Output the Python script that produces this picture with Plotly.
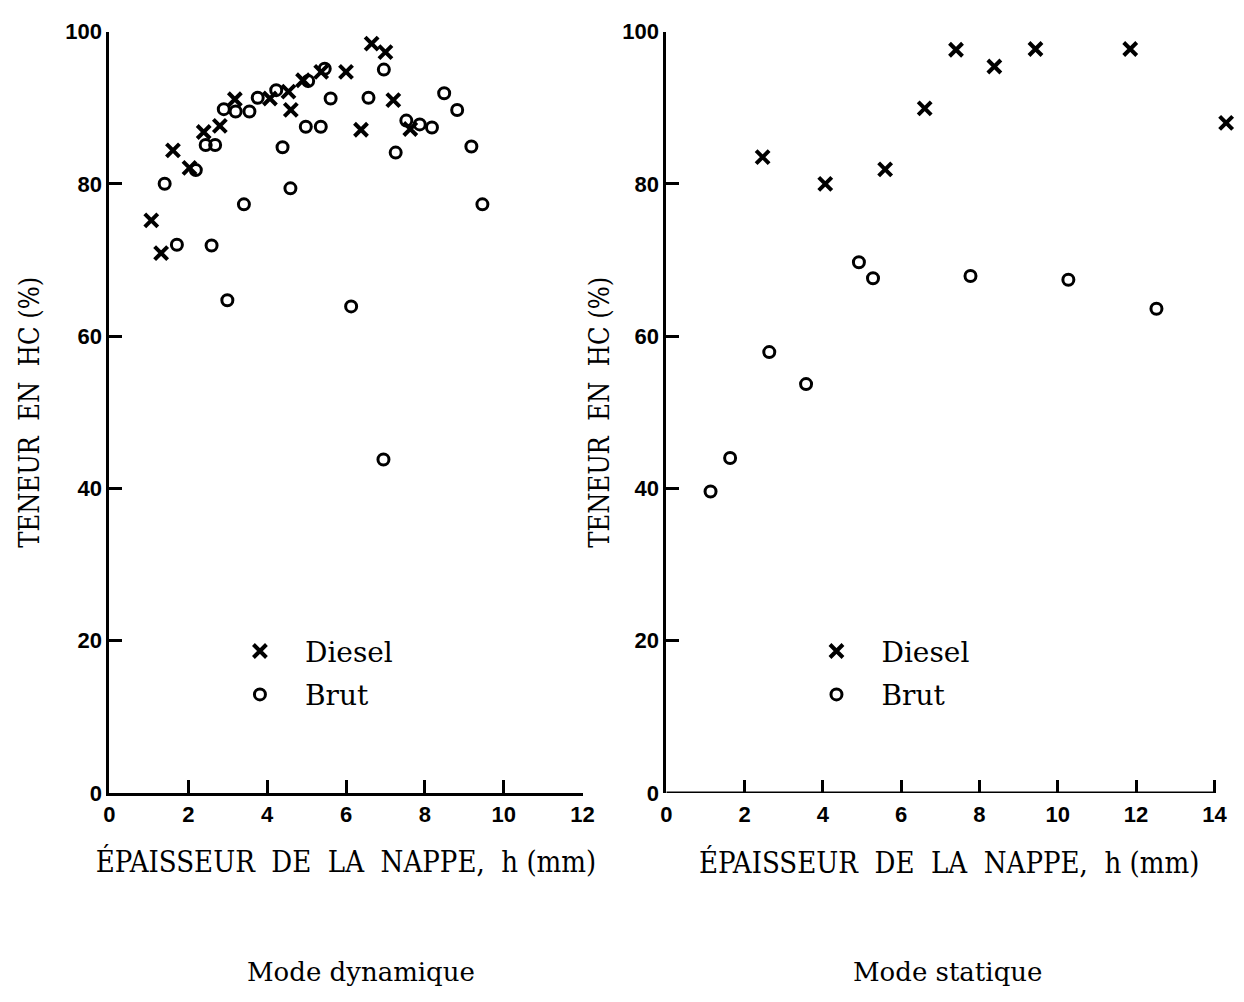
import plotly.graph_objects as go

# Mode dynamique : teneur en hydrocarbures vs épaisseur de la nappe
dyn_diesel_h = [1.06, 1.31, 1.61, 2.03, 2.39, 2.80, 3.18, 4.07, 4.54, 4.60,
                4.91, 5.37, 6.00, 6.38, 6.65, 7.00, 7.20, 7.63]
dyn_diesel_hc = [75.2, 70.9, 84.4, 82.1, 86.8, 87.6, 91.1, 91.2, 92.1, 89.7,
                 93.6, 94.7, 94.7, 87.1, 98.4, 97.3, 91.0, 87.2]
dyn_brut_h = [1.40, 1.71, 2.19, 2.44, 2.59, 2.68, 2.90, 2.99, 3.20, 3.41,
              3.55, 3.76, 4.23, 4.39, 4.59, 4.98, 5.04, 5.36, 5.46, 5.61,
              6.13, 6.57, 6.95, 6.96, 7.26, 7.53, 7.87, 8.18, 8.49, 8.82,
              9.18, 9.46]
dyn_brut_hc = [80.0, 72.0, 81.8, 85.1, 71.9, 85.1, 89.8, 64.7, 89.5, 77.3,
               89.5, 91.3, 92.3, 84.8, 79.4, 87.5, 93.5, 87.5, 95.1, 91.2,
               63.9, 91.3, 43.8, 95.0, 84.1, 88.3, 87.8, 87.4, 91.9, 89.7,
               84.9, 77.3]

# Mode statique
sta_diesel_h = [2.46, 4.06, 5.59, 6.60, 7.40, 8.38, 9.43, 11.85, 14.30]
sta_diesel_hc = [83.5, 80.0, 81.9, 89.9, 97.6, 95.4, 97.7, 97.7, 88.0]
sta_brut_h = [1.13, 1.63, 2.63, 3.57, 4.92, 5.28, 7.77, 10.27, 12.52]
sta_brut_hc = [39.6, 44.0, 57.9, 53.7, 69.7, 67.6, 67.9, 67.4, 63.6]

x_ticks_dyn = [0, 2, 4, 6, 8, 10, 12]
x_ticks_sta = [0, 2, 4, 6, 8, 10, 12, 14]
y_ticks = [0, 20, 40, 60, 80, 100]

SERIF = "DejaVu Serif"
SERIF_NARROW = "DejaVu Serif Condensed, DejaVu Serif"
TICKFONT = dict(family="Liberation Sans", size=22, color="black", weight="bold")

diesel_marker = dict(symbol="x-thin-open", size=13, color="black",
                     line=dict(width=4, color="black"))
brut_marker = dict(symbol="circle-open", size=11, color="black",
                   line=dict(width=3, color="black"))

fig = go.Figure()

fig.add_trace(go.Scatter(x=dyn_diesel_h, y=dyn_diesel_hc, mode="markers",
                         name="Diesel", marker=diesel_marker,
                         xaxis="x", yaxis="y", legend="legend",
                         legendgroup="diesel_dyn", cliponaxis=False))
fig.add_trace(go.Scatter(x=dyn_brut_h, y=dyn_brut_hc, mode="markers",
                         name="Brut", marker=brut_marker,
                         xaxis="x", yaxis="y", legend="legend",
                         legendgroup="brut_dyn", cliponaxis=False))
fig.add_trace(go.Scatter(x=sta_diesel_h, y=sta_diesel_hc, mode="markers",
                         name="Diesel", marker=diesel_marker,
                         xaxis="x2", yaxis="y2", legend="legend2",
                         legendgroup="diesel_sta", cliponaxis=False))
fig.add_trace(go.Scatter(x=sta_brut_h, y=sta_brut_hc, mode="markers",
                         name="Brut", marker=brut_marker,
                         xaxis="x2", yaxis="y2", legend="legend2",
                         legendgroup="brut_sta", cliponaxis=False))

W, H = 1244, 1002
y_dom = [(H - 801) / H, (H - 20) / H]

x_title = "ÉPAISSEUR\u00a0\u00a0DE\u00a0\u00a0LA\u00a0\u00a0NAPPE,\u00a0\u00a0h\u00a0(mm)"
y_title = "TENEUR\u00a0\u00a0EN\u00a0\u00a0HC\u00a0(%)"


def x_axis(domain, rng, ticks, anchor, showline=True, label_gap=0):
    return dict(domain=domain, range=rng, tickvals=ticks, anchor=anchor,
                showline=showline, linewidth=3, linecolor="black",
                ticks="inside", ticklen=13, tickwidth=2.5, tickcolor="black",
                showgrid=False, zeroline=False, tickfont=TICKFONT,
                ticklabelstandoff=label_gap,
                title=dict(text=x_title, standoff=26,
                           font=dict(family=SERIF_NARROW, size=29,
                                     color="black")))


def y_axis(domain, anchor, standoff):
    return dict(domain=domain, range=[0, 100], tickvals=y_ticks, anchor=anchor,
                showline=True, linewidth=3, linecolor="black",
                ticks="inside", ticklen=13, tickwidth=2.5, tickcolor="black",
                showgrid=False, zeroline=False, tickfont=TICKFONT,
                title=dict(text=y_title, standoff=standoff,
                           font=dict(family=SERIF_NARROW, size=27,
                                     color="black")))


legend_style = dict(xanchor="left", yanchor="top", bgcolor="rgba(0,0,0,0)",
                    font=dict(family=SERIF, size=28, color="black"),
                    itemwidth=80, tracegroupgap=4, traceorder="grouped")

# The static panel's range runs a little past 14 so the last point (h > 14)
# stays visible at the page edge; its axis line is drawn only from 0 to 14.
sta_range = [0, 14.45]

fig.update_layout(
    width=W, height=H,
    margin=dict(l=0, r=0, t=0, b=0),
    paper_bgcolor="white", plot_bgcolor="white",
    xaxis=x_axis([105 / W, 585 / W], [0, 12], x_ticks_dyn, "y"),
    yaxis=y_axis(y_dom, "x", 18),
    xaxis2=x_axis([670 / W, 1.0], sta_range, x_ticks_sta, "y2",
                  showline=False, label_gap=6),
    yaxis2=y_axis(y_dom, "x2", 5),
    legend=dict(x=212 / W, y=(H - 630) / H, **legend_style),
    legend2=dict(x=797 / W, y=(H - 630) / H, **legend_style),
    shapes=[
        dict(type="line", xref="x2", yref="y2",
             x0=x_ticks_sta[0], x1=x_ticks_sta[-1], y0=0, y1=0,
             line=dict(color="black", width=3), layer="above"),
    ],
    annotations=[
        dict(text="Mode dynamique", x=360 / W, y=(H - 985) / H,
             xref="paper", yref="paper", showarrow=False,
             xanchor="center", yanchor="middle",
             font=dict(family=SERIF, size=26, color="black")),
        dict(text="Mode statique", x=955 / W, y=(H - 985) / H,
             xref="paper", yref="paper", showarrow=False,
             xanchor="center", yanchor="middle",
             font=dict(family=SERIF, size=26, color="black")),
    ],
)

fig.write_html("out.html")
